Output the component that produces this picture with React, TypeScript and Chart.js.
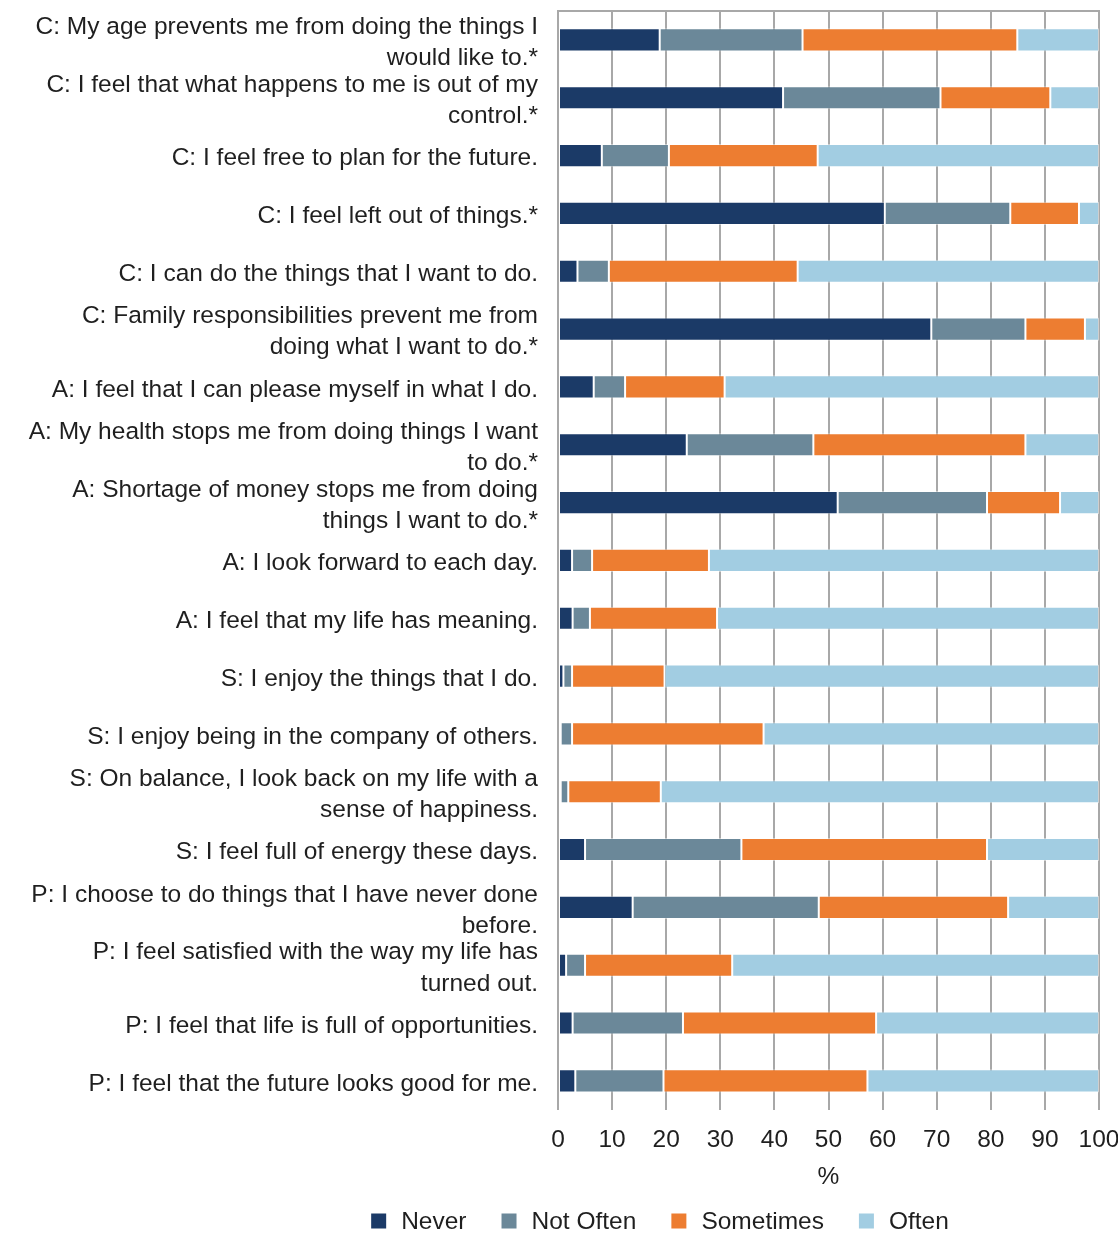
import React, { useEffect, useRef } from "react";
import { Chart, registerables } from "chart.js";

Chart.register(...registerables);

const categories: (string | string[])[] = [
  ["C: My age prevents me from doing the things I", "would like to.*"],
  ["C: I feel that what happens to me is out of my", "control.*"],
  "C: I feel free to plan for the future.",
  "C: I feel left out of things.*",
  "C: I can do the things that I want to do.",
  ["C: Family responsibilities prevent me from", "doing what I want to do.*"],
  "A: I feel that I can please myself in what I do.",
  ["A: My health stops me from doing things I want", "to do.*"],
  ["A: Shortage of money stops me from doing", "things I want to do.*"],
  "A: I look forward to each day.",
  "A: I feel that my life has meaning.",
  "S: I enjoy the things that I do.",
  "S: I enjoy being in the company of others.",
  ["S: On balance, I look back on my life with a", "sense of happiness."],
  "S: I feel full of energy these days.",
  ["P: I choose to do things that I have never done", "before."],
  ["P: I feel satisfied with the way my life has", "turned out."],
  "P: I feel that life is full of opportunities.",
  "P: I feel that the future looks good for me.",
];

const never = [18.8, 41.6, 8.1, 60.4, 3.6, 69.0, 6.6, 23.8, 51.7, 2.6, 2.7, 1.0, 0.5, 0.5, 5.0, 13.8, 1.5, 2.7, 3.2];
const notOften = [26.4, 29.1, 12.4, 23.2, 5.8, 17.4, 5.8, 23.4, 27.6, 3.7, 3.2, 1.6, 2.1, 1.4, 28.9, 34.4, 3.5, 20.4, 16.3];
const sometimes = [39.7, 20.3, 27.5, 12.7, 34.9, 11.0, 18.4, 39.2, 13.5, 21.6, 23.5, 17.1, 35.4, 17.1, 45.4, 35.0, 27.2, 35.7, 37.7];
const often = [15.1, 9.0, 52.0, 3.7, 55.7, 2.6, 69.2, 13.6, 7.2, 72.1, 70.6, 80.3, 62.0, 81.0, 20.7, 16.8, 67.8, 41.2, 42.8];

const seriesNames = ["Never", "Not Often", "Sometimes", "Often"];
const seriesColors = ["#1b3a67", "#6b8899", "#ed7d31", "#a2cde2"];
const xTicks = [0, 10, 20, 30, 40, 50, 60, 70, 80, 90, 100];

const FONT = '"Liberation Sans", Arial, Helvetica, sans-serif';
const FS = 24.5;
const TEXT = "#1f1f1f";
const GRID = "#a8a8a8";

const customLegend = {
  id: "customLegend",
  afterDraw(chart: any) {
    const ctx = chart.ctx as CanvasRenderingContext2D;
    ctx.save();
    ctx.font = `${FS}px ${FONT}`;
    const box = 15;
    const gapText = 15;
    const gapItem = 35;
    const items = chart.data.datasets.map((d: any) => ({
      label: d.label as string,
      color: d.backgroundColor as string,
      w: ctx.measureText(d.label).width,
    }));
    const total =
      items.reduce((s: number, i: any) => s + box + gapText + i.w, 0) + gapItem * (items.length - 1);
    const centerX = chart.width / 2 + 101;
    const y = 1221;
    let x = centerX - total / 2;
    ctx.textBaseline = "middle";
    ctx.textAlign = "left";
    for (const it of items) {
      ctx.fillStyle = it.color;
      ctx.fillRect(x, y - box / 2, box, box);
      x += box + gapText;
      ctx.fillStyle = TEXT;
      ctx.fillText(it.label, x, y + 1);
      x += it.w + gapItem;
    }
    ctx.restore();
  },
};

const topBorder = {
  id: "topBorder",
  beforeDatasetsDraw(chart: any) {
    const { ctx, chartArea } = chart;
    ctx.save();
    ctx.strokeStyle = GRID;
    ctx.lineWidth = 2;
    ctx.beginPath();
    ctx.moveTo(chartArea.left - 1, chartArea.top);
    ctx.lineTo(chartArea.right + 1, chartArea.top);
    ctx.stroke();
    ctx.restore();
  },
};

export default function App() {
  const ref = useRef<HTMLCanvasElement | null>(null);

  useEffect(() => {
    document.body.style.margin = "0";
    document.body.style.overflow = "hidden";
    if (!ref.current) return;
    Chart.defaults.font.family = FONT;
    const data = [never, notOften, sometimes, often];
    const chart = new Chart(ref.current, {
      type: "bar",
      data: {
        labels: categories,
        datasets: data.map((vals, i) => ({
          label: seriesNames[i],
          data: vals,
          backgroundColor: seriesColors[i],
          borderColor: "rgba(255,255,255,0.45)",
          borderWidth: 1,
          borderSkipped: false,
          barPercentage: 0.4,
          categoryPercentage: 1,
        })),
      },
      options: {
        indexAxis: "y",
        animation: false,
        responsive: false,
        maintainAspectRatio: false,
        layout: { padding: { top: 11, right: 19, bottom: 41.6, left: 0 } },
        plugins: {
          legend: { display: false },
          tooltip: { enabled: false },
        },
        scales: {
          x: {
            type: "linear",
            position: "bottom",
            stacked: true,
            min: 0,
            max: 100,
            afterBuildTicks: (scale: any) => {
              scale.ticks = xTicks.map((v) => ({ value: v }));
            },
            afterFit: (scale: any) => {
              scale.paddingLeft = 0;
              scale.paddingRight = 0;
            },
            grid: { color: GRID, lineWidth: 2, drawTicks: false },
            border: { display: false },
            ticks: {
              color: TEXT,
              font: { size: FS, family: FONT, lineHeight: 1.2 },
              padding: 15.6,
              maxRotation: 0,
            },
            title: {
              display: true,
              text: "%",
              color: TEXT,
              font: { size: FS, family: FONT, lineHeight: 1.2 },
              padding: { top: -7.4, bottom: 0 },
            },
          },
          y: {
            type: "category",
            stacked: true,
            grid: { display: false, drawTicks: false },
            border: { display: false },
            ticks: {
              color: TEXT,
              font: { size: FS, family: FONT, lineHeight: 1.27 },
              padding: 20,
              autoSkip: false,
              labelOffset: 3,
            },
            afterFit: (scale: any) => {
              scale.width = 558;
              scale.paddingTop = 0;
              scale.paddingBottom = 0;
            },
          },
        },
      },
      plugins: [customLegend, topBorder],
    } as any);
    return () => chart.destroy();
  }, []);

  return (
    <div style={{ width: 1118, height: 1234, position: "relative" }}>
      <canvas ref={ref} width={1118} height={1234} style={{ width: 1118, height: 1234, display: "block" }} />
    </div>
  );
}
